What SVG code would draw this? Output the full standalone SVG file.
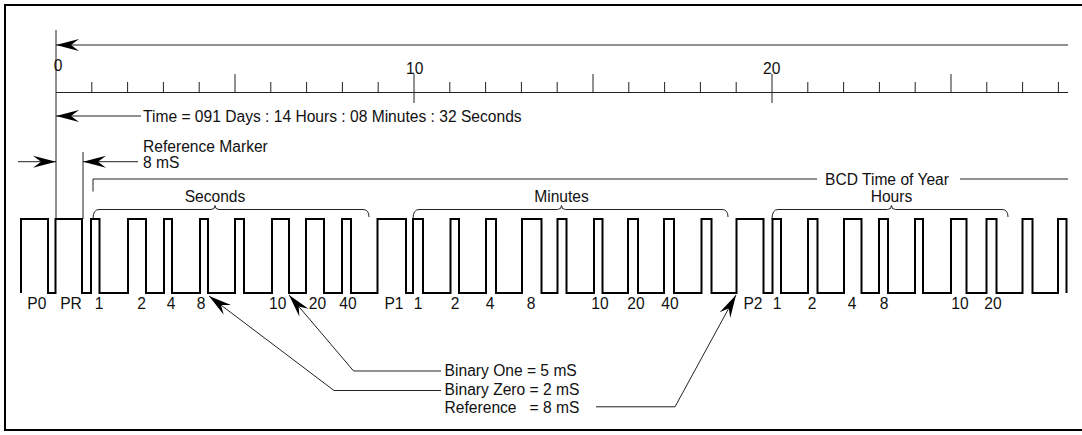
<svg xmlns="http://www.w3.org/2000/svg" width="1082" height="435" viewBox="0 0 1082 435">
<style>
  .t { font-family: "Liberation Sans", Arial, sans-serif; font-size: 15.6px; fill: #111; }
  .c { text-anchor: middle; }
  .thin { fill: none; stroke: #222; stroke-width: 1; }
  .wave { fill: none; stroke: #000; stroke-width: 2; stroke-linejoin: miter; }
  .frame { fill: #fff; stroke: #000; stroke-width: 2; }
</style>
<defs>
  <marker id="ah" viewBox="-25 -7 26 14" refX="0" refY="0" markerWidth="26" markerHeight="14" markerUnits="userSpaceOnUse" orient="auto">
    <path d="M0,0 L-23,-6 L-15,0 L-23,6 Z" fill="#000"/>
  </marker>
</defs>
<rect class="frame" x="5" y="5" width="1090" height="425"/>

<g id="scale">
  <path class="thin" d="M56,30 V219"/>
  <path class="thin" d="M56,92.5 H1068"/>
  <path class="thin" d="M91.8,82 V92.5 M127.6,82 V92.5 M163.4,82 V92.5 M199.2,82 V92.5 M235,74 V92.5 M270.8,82 V92.5 M306.6,82 V92.5 M342.4,82 V92.5 M378.2,82 V92.5 M414,74 V103 M449.8,82 V92.5 M485.6,82 V92.5 M521.4,82 V92.5 M557.2,82 V92.5 M593,74 V92.5 M628.8,82 V92.5 M664.6,82 V92.5 M700.4,82 V92.5 M736.2,82 V92.5 M772,74 V103 M807.8,82 V92.5 M843.6,82 V92.5 M879.4,82 V92.5 M915.2,82 V92.5 M951,74 V92.5 M986.8,82 V92.5 M1022.6,82 V92.5 M1058.4,82 V92.5"/>
  <text class="t c" x="58" y="71">0</text>
  <text class="t c" x="414.7" y="74">10</text>
  <text class="t c" x="771.7" y="74">20</text>
</g>

<g id="connectors">
  <path class="thin" d="M1068,45 H56" marker-end="url(#ah)"/>
  <path class="thin" d="M141,116 H56" marker-end="url(#ah)"/>
  <path class="thin" d="M18,161.7 H56" marker-end="url(#ah)"/>
  <path class="thin" d="M83,152 V219"/>
  <path class="thin" d="M138,161.7 H83" marker-end="url(#ah)"/>
  <path class="thin" d="M441,371 H353.6 L289,295" marker-end="url(#ah)"/>
  <path class="thin" d="M441,390.5 H334 L209,296" marker-end="url(#ah)"/>
  <path class="thin" d="M596,406.8 H675 L736,295" marker-end="url(#ah)"/>
  <path class="thin" d="M93,191.5 V179 H817 M960,179 H1068"/>
</g>

<g id="time-label">
  <text class="t" x="143" y="121.5">Time = 091 Days : 14 Hours : 08 Minutes : 32 Seconds</text>
</g>
<g id="reference-marker">
  <text class="t" x="143" y="151.5">Reference Marker</text>
  <text class="t" x="143" y="168">8 mS</text>
</g>
<g id="bcd-label">
  <text class="t" x="825" y="185">BCD Time of Year</text>
</g>

<g id="brace-seconds">
  <path class="thin" d="M93,219 Q93,209.5 99,209.5 H211 Q215,209.5 215,205.5 Q215,209.5 219,209.5 H363 Q369,209.5 369,217"/>
  <text class="t c" x="215" y="202">Seconds</text>
</g>
<g id="brace-minutes">
  <path class="thin" d="M413,219 Q413,209.5 419,209.5 H557.5 Q561.5,209.5 561.5,205.5 Q561.5,209.5 565.5,209.5 H722 Q728,209.5 728,217"/>
  <text class="t c" x="561.5" y="202">Minutes</text>
</g>
<g id="brace-hours">
  <path class="thin" d="M772,219 Q772,209.5 778,209.5 H887.5 Q891.5,209.5 891.5,205.5 Q891.5,209.5 895.5,209.5 H1002 Q1008,209.5 1008,217"/>
  <text class="t c" x="891.5" y="202">Hours</text>
</g>

<g id="waveform">
  <path class="wave" d="M21,293 V219 H48 V293 H55.5 V219 H82 V293 H91 V219 H99.5 V293 H128 V219 H146 V293 H164 V219 H172 V293 H200 V219 H208 V293 H235 V219 H244 V293 H272 V219 H289 V293 H306 V219 H324 V293 H342 V219 H351 V293 H377.5 V219 H406 V293 H413 V219 H423 V293 H450.5 V219 H459 V293 H486 V219 H496 V293 H522 V219 H541.5 V293 H557.5 V219 H566.5 V293 H594 V219 H602.5 V293 H628 V219 H638 V293 H664 V219 H674 V293 H701.5 V219 H711.5 V293 H736.5 V219 H763.5 V293 H772.5 V219 H781 V293 H808 V219 H817.5 V293 H844 V219 H861.5 V293 H879 V219 H888 V293 H915 V219 H923 V293 H951 V219 H966.5 V293 H986.5 V219 H996.5 V293 H1022.5 V219 H1032.5 V293 H1058 V219 H1066.5 V293"/>
</g>

<g id="bit-labels">
  <text class="t c" x="36.8" y="309">P0</text>
  <text class="t c" x="71" y="309">PR</text>
  <text class="t c" x="99" y="309">1</text>
  <text class="t c" x="141.5" y="309">2</text>
  <text class="t c" x="171" y="309">4</text>
  <text class="t c" x="201" y="309">8</text>
  <text class="t c" x="277.8" y="309">10</text>
  <text class="t c" x="317.5" y="309">20</text>
  <text class="t c" x="348" y="309">40</text>
  <text class="t c" x="394" y="309">P1</text>
  <text class="t c" x="418" y="309">1</text>
  <text class="t c" x="455" y="309">2</text>
  <text class="t c" x="490" y="309">4</text>
  <text class="t c" x="531" y="309">8</text>
  <text class="t c" x="600" y="309">10</text>
  <text class="t c" x="636" y="309">20</text>
  <text class="t c" x="670" y="309">40</text>
  <text class="t c" x="753" y="309">P2</text>
  <text class="t c" x="777" y="309">1</text>
  <text class="t c" x="812" y="309">2</text>
  <text class="t c" x="852" y="309">4</text>
  <text class="t c" x="884" y="309">8</text>
  <text class="t c" x="960" y="309">10</text>
  <text class="t c" x="993" y="309">20</text>
</g>

<g id="legend">
  <text class="t" x="444.6" y="376">Binary One = 5 mS</text>
  <text class="t" x="444.6" y="394.5">Binary Zero = 2 mS</text>
  <text class="t" x="444.6" y="413" xml:space="preserve">Reference   = 8 mS</text>
</g>
</svg>
